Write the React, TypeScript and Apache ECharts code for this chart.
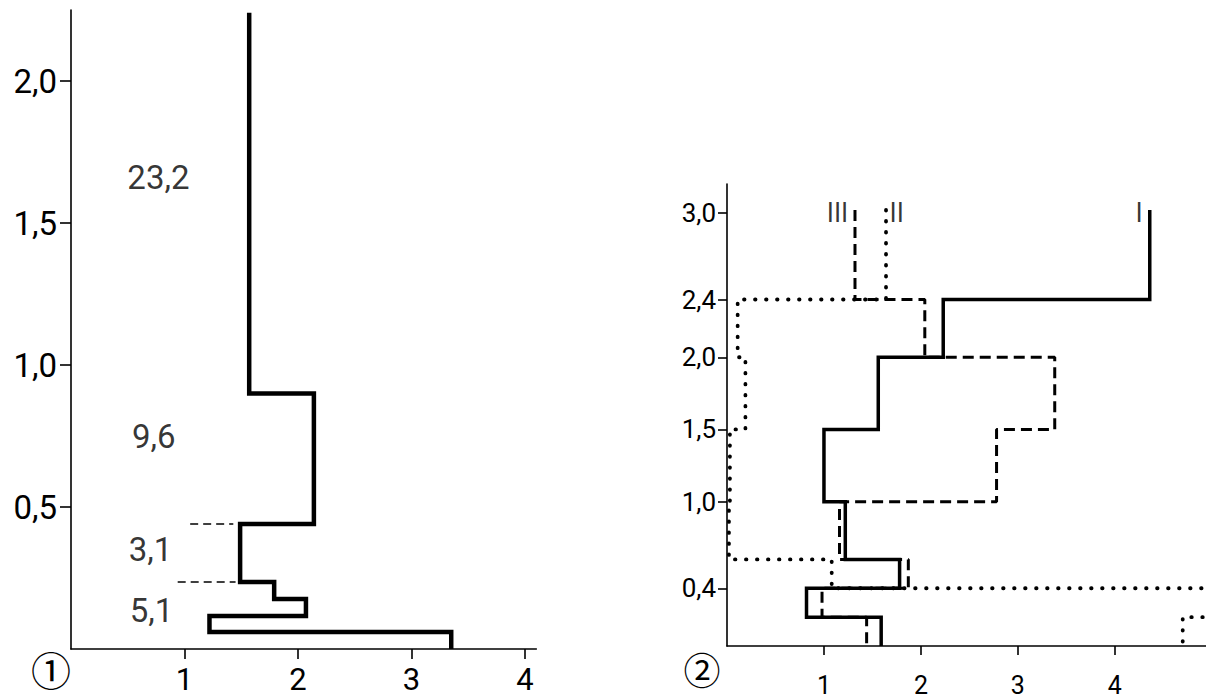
import React, { useEffect, useRef } from "react";
import * as echarts from "echarts";

// ---------- data ----------
// Panel 1: step profile (levels from top to bottom, value per layer)
const p1Bounds = [2.24, 0.9, 0.44, 0.236, 0.176, 0.116, 0.06, 0];
const p1Values = [1.57, 2.14, 1.49, 1.79, 2.07, 1.22, 3.35];
const p1DashY = [0.44, 0.236];
const p1DashFrom = [1.05, 0.94];
const p1DashTo = [1.43, 1.45];
const p1Notes = ["23,2", "9,6", "3,1", "5,1"];
const p1NoteX = [0.77, 0.73, 0.7, 0.71];
const p1NoteY = [1.66, 0.75, 0.35, 0.137];
const p1XTicks = [1, 2, 3, 4];
const p1YTicks = [0.5, 1.0, 1.5, 2.0];

// Panel 2: three step profiles I, II, III
const p2Bounds = [3.02, 2.4, 2.0, 1.5, 1.0, 0.6, 0.4, 0.2, 0];
const seriesI = [4.36, 2.23, 1.56, 1.0, 1.22, 1.78, 0.82, 1.59];
const seriesII = [1.64, 0.11, 0.19, 0.03, 0.02, 1.08, 5.6, 4.7];
const seriesIII = [1.32, 2.04, 3.38, 2.78, 1.16, 1.87, 0.98, 1.44];
const p2Names = ["III", "II", "I"];
const p2NameX = [1.14, 1.75, 4.25];
const p2NameY = [3.0, 3.0, 3.0];
const p2XTicks = [1, 2, 3, 4];
const p2YTicks = [0.4, 1.0, 1.5, 2.0, 2.4, 3.0];

const panelMarks = ["①", "②"];

// ---------- helpers ----------
const FONT = "Roboto, 'Liberation Sans', 'DejaVu Sans', sans-serif";
const BLACK = "#000";

function stepPoints(bounds: number[], vals: number[]) {
  const pts: number[][] = [];
  for (let i = 0; i < vals.length; i++) {
    pts.push([vals[i], bounds[i]]);
    pts.push([vals[i], bounds[i + 1]]);
  }
  return pts;
}

const comma1 = (v: number) => v.toFixed(1).replace(".", ",");

export default function App() {
  const ref = useRef<HTMLDivElement>(null);

  useEffect(() => {
    if (!ref.current) return;
    const chart = echarts.init(ref.current, undefined, { renderer: "svg" });

    const axisLineStyle = { color: BLACK, width: 1.6 };

    const option: any = {
      animation: false,
      backgroundColor: "#fff",
      grid: [
        { left: 71, width: 465.35, bottom: 49, height: 639, containLabel: false },
        { left: 727, right: 0, bottom: 52, height: 462, containLabel: false },
      ],
      xAxis: [
        {
          gridIndex: 0,
          type: "value",
          min: 0,
          max: 4.1,
          axisLine: { show: true, lineStyle: axisLineStyle },
          axisTick: { show: true, length: 10, customValues: p1XTicks, lineStyle: axisLineStyle },
          axisLabel: {
            customValues: p1XTicks,
            margin: 15,
            fontSize: 31,
            lineHeight: 31,
            color: BLACK,
            fontFamily: FONT,
          },
          splitLine: { show: false },
        },
        {
          gridIndex: 1,
          type: "value",
          min: 0,
          max: 4.94,
          axisLine: { show: true, lineStyle: axisLineStyle },
          axisTick: { show: true, length: 9, customValues: p2XTicks, lineStyle: axisLineStyle },
          axisLabel: {
            customValues: p2XTicks,
            margin: 27,
            fontSize: 25,
            lineHeight: 24,
            color: BLACK,
            fontFamily: FONT,
          },
          splitLine: { show: false },
        },
      ],
      yAxis: [
        {
          gridIndex: 0,
          type: "value",
          min: 0,
          max: 2.25,
          axisLine: { show: true, lineStyle: axisLineStyle },
          axisTick: { show: true, length: 11, customValues: p1YTicks, lineStyle: axisLineStyle },
          axisLabel: {
            customValues: p1YTicks,
            margin: 14,
            fontSize: 33,
            color: BLACK,
            fontFamily: FONT,
            formatter: (v: number) => comma1(v),
          },
          splitLine: { show: false },
        },
        {
          gridIndex: 1,
          type: "value",
          min: 0,
          max: 3.2,
          axisLine: { show: true, lineStyle: axisLineStyle },
          axisTick: { show: true, length: 9, customValues: p2YTicks, lineStyle: axisLineStyle },
          axisLabel: {
            customValues: p2YTicks,
            margin: 11,
            fontSize: 26,
            color: BLACK,
            fontFamily: FONT,
            formatter: (v: number) => comma1(v),
          },
          splitLine: { show: false },
        },
      ],
      series: [
        {
          name: "profile1",
          type: "line",
          xAxisIndex: 0,
          yAxisIndex: 0,
          data: stepPoints(p1Bounds, p1Values),
          symbol: "none",
          lineStyle: { color: BLACK, width: 4.5, join: "miter" },
          silent: true,
        },
        ...p1DashY.map((y, i) => ({
          name: "dash" + i,
          type: "line",
          xAxisIndex: 0,
          yAxisIndex: 0,
          data: [
            [p1DashFrom[i], y],
            [p1DashTo[i], y],
          ],
          symbol: "none",
          lineStyle: { color: BLACK, width: 1.4, type: [8, 5] },
          silent: true,
        })),
        {
          name: "notes1",
          type: "scatter",
          xAxisIndex: 0,
          yAxisIndex: 0,
          symbolSize: 0,
          data: p1Notes.map((t, i) => ({ name: t, value: [p1NoteX[i], p1NoteY[i]] })),
          label: {
            show: true,
            position: "inside",
            formatter: "{b}",
            fontSize: 33,
            color: BLACK,
            fontFamily: FONT,
          },
          silent: true,
        },
        {
          name: "I",
          type: "line",
          xAxisIndex: 1,
          yAxisIndex: 1,
          data: stepPoints(p2Bounds, seriesI),
          symbol: "none",
          lineStyle: { color: BLACK, width: 3.5, join: "miter" },
          silent: true,
        },
        {
          name: "III",
          type: "line",
          xAxisIndex: 1,
          yAxisIndex: 1,
          data: stepPoints(p2Bounds, seriesIII),
          symbol: "none",
          lineStyle: { color: BLACK, width: 3, type: [11, 6] },
          silent: true,
        },
        {
          name: "II",
          type: "line",
          xAxisIndex: 1,
          yAxisIndex: 1,
          data: stepPoints(p2Bounds, seriesII),
          symbol: "none",
          lineStyle: { color: BLACK, width: 3.8, type: [0.5, 10.5], cap: "round" },
          silent: true,
        },
        {
          name: "names2",
          type: "scatter",
          xAxisIndex: 1,
          yAxisIndex: 1,
          symbolSize: 0,
          data: p2Names.map((t, i) => ({ name: t, value: [p2NameX[i], p2NameY[i]] })),
          label: {
            show: true,
            position: "inside",
            formatter: "{b}",
            fontSize: 27,
            color: BLACK,
            fontFamily: "'Liberation Sans Narrow', 'DejaVu Sans Condensed', " + FONT,
          },
          silent: true,
        },
      ],
      graphic: [
        {
          type: "text",
          x: 51,
          y: 669,
          style: {
            text: panelMarks[0],
            fontSize: 40,
            lineHeight: 40,
            align: "center",
            verticalAlign: "middle",
            fontFamily: "'Noto Sans CJK JP', 'DejaVu Sans', sans-serif",
            fill: BLACK,
          },
        },
        {
          type: "text",
          x: 702,
          y: 669,
          style: {
            text: panelMarks[1],
            fontSize: 37,
            lineHeight: 37,
            align: "center",
            verticalAlign: "middle",
            fontFamily: "'Noto Sans CJK JP', 'DejaVu Sans', sans-serif",
            fill: BLACK,
          },
        },
      ],
    };

    chart.setOption(option);
    return () => chart.dispose();
  }, []);

  return (
    <div
      ref={ref}
      style={{ position: "absolute", left: 0, top: 0, width: 1206, height: 698, background: "#fff" }}
    />
  );
}
